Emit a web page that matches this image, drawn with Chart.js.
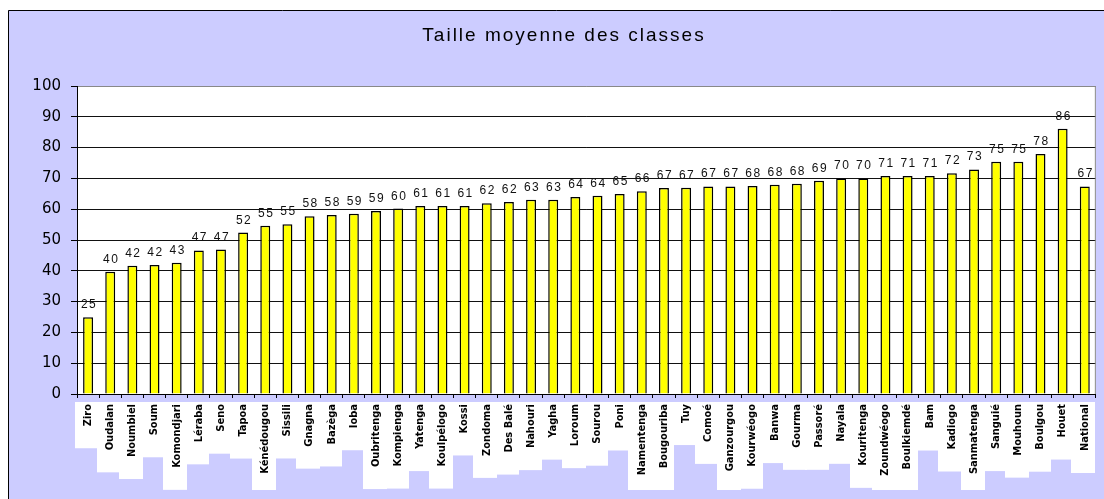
<!DOCTYPE html>
<html>
<head>
<meta charset="utf-8">
<script src="https://cdn.jsdelivr.net/npm/chart.js@4/dist/chart.umd.min.js"></script>
<style>
  html, body { margin: 0; padding: 0; background: #fff; }
  canvas { display: block; }
</style>
</head>
<body>
<canvas id="chart" width="1104" height="499"></canvas>
<script>
const chartTitle = 'Taille moyenne des classes';

const provinces = [
  'Ziro', 'Oudalan', 'Noumbiel', 'Soum', 'Komondjari', 'Léraba', 'Seno', 'Tapoa',
  'Kénédougou', 'Sissili', 'Gnagna', 'Bazèga', 'Ioba', 'Oubritenga', 'Kompienga',
  'Yatenga', 'Koulpélogo', 'Kossi', 'Zondoma', 'Des Balé', 'Nahouri', 'Yagha',
  'Loroum', 'Sourou', 'Poni', 'Namentenga', 'Bougouriba', 'Tuy', 'Comoé',
  'Ganzourgou', 'Kourwéogo', 'Banwa', 'Gourma', 'Passoré', 'Nayala', 'Kouritenga',
  'Zoundwéogo', 'Boulkiemdé', 'Bam', 'Kadiogo', 'Sanmatenga', 'Sanguié', 'Mouhoun',
  'Boulgou', 'Houet', 'National'
];

const classSizes = [
  24.9, 39.7, 41.6, 41.9, 42.6, 46.6, 46.9, 52.4,
  54.6, 55.1, 57.7, 58.1, 58.5, 59.4, 60.2,
  61.0, 61.0, 61.0, 61.9, 62.3, 63.1, 63.1,
  64.0, 64.4, 64.9, 65.8, 66.9, 67.0, 67.4,
  67.4, 67.5, 67.9, 68.3, 69.2, 70.0, 70.0,
  70.8, 70.8, 70.8, 71.7, 72.9, 75.4, 75.4,
  77.9, 86.1, 67.4
];

const LAVENDER = '#ccccff';
const LABEL_FAMILY = "'Liberation Sans Narrow', 'DejaVu Sans Condensed', sans-serif";
const LABEL_FONT = `bold 11px ${LABEL_FAMILY}`;

// excel-like background: lavender frame, white plot, white boxes under the labels
const backdrop = {
  id: 'backdrop',
  beforeDraw(chart) {
    const { ctx, chartArea: a, width: w, height: h } = chart;
    const xs = chart.scales.x;
    const step = xs.width / provinces.length;

    ctx.save();
    ctx.fillStyle = '#fff';
    ctx.fillRect(0, 0, w, h);
    ctx.fillStyle = LAVENDER;
    ctx.fillRect(8, 10, w - 8, h - 10);
    ctx.strokeStyle = '#000';
    ctx.lineWidth = 1;
    ctx.beginPath();
    ctx.moveTo(8.5, h);
    ctx.lineTo(8.5, 10.5);
    ctx.lineTo(w, 10.5);
    ctx.stroke();

    ctx.font = LABEL_FONT;
    ctx.fillStyle = '#fff';
    provinces.forEach((p, i) => {
      const cx = xs.getPixelForValue(i);
      const len = ctx.measureText(p).width;
      ctx.fillRect(Math.round(cx - 13.5), a.bottom + 8, Math.ceil(step) + 1, Math.min(len + 24, 88));
    });

    ctx.fillRect(a.left, a.top, a.right - a.left, a.bottom - a.top);
    ctx.restore();
  },
  afterDatasetsDraw(chart) {
    const { ctx } = chart;
    const meta = chart.getDatasetMeta(0);
    ctx.save();
    ctx.font = "12px 'Liberation Sans', Arial, sans-serif";
    ctx.letterSpacing = '1.5px';
    ctx.fillStyle = '#111';
    ctx.textAlign = 'center';
    ctx.textBaseline = 'alphabetic';
    meta.data.forEach((bar, i) => {
      ctx.fillText(String(Math.round(classSizes[i])), bar.x + 1, bar.y - 9);
    });
    ctx.restore();
  },
  afterDraw(chart) {
    const { ctx, chartArea: a } = chart;
    ctx.save();
    ctx.strokeStyle = '#888';
    ctx.lineWidth = 1;
    ctx.beginPath();
    ctx.moveTo(a.right - 0.5, a.top);
    ctx.lineTo(a.right - 0.5, a.bottom);
    ctx.stroke();

    ctx.font = "19px 'Liberation Sans', Arial, sans-serif";
    ctx.letterSpacing = '2px';
    ctx.fillStyle = '#000';
    ctx.textAlign = 'center';
    ctx.textBaseline = 'middle';
    ctx.fillText(chartTitle, 564, 36);
    ctx.restore();
  }
};

new Chart(document.getElementById('chart'), {
  type: 'bar',
  data: {
    labels: provinces,
    datasets: [{
      data: classSizes,
      backgroundColor: '#ffff00',
      borderColor: '#000',
      borderWidth: 1.5,
      barPercentage: 0.45,
      categoryPercentage: 1
    }]
  },
  options: {
    responsive: false,
    animation: false,
    layout: { padding: { left: 9, top: 86, right: 2, bottom: 0 } },
    plugins: {
      legend: { display: false },
      tooltip: { enabled: false },
      title: { display: false }
    },
    scales: {
      x: {
        grid: { drawOnChartArea: false, tickLength: 4, tickColor: '#000', offset: true },
        border: { color: '#000' },
        ticks: {
          autoSkip: false,
          maxRotation: 90,
          minRotation: 90,
          padding: 6,
          color: '#000',
          font: { family: LABEL_FAMILY, size: 11, weight: 'bold' }
        },
        afterFit: s => { s.height = 105; }
      },
      y: {
        min: 0,
        max: 100,
        ticks: {
          stepSize: 10,
          padding: 10,
          color: '#000',
          font: { family: "'DejaVu Sans', sans-serif", size: 15 }
        },
        grid: {
          color: c => (c.tick && c.tick.value === 100 ? '#888' : '#111'),
          tickLength: 6,
          tickColor: '#000'
        },
        border: { color: '#000' },
        afterFit: s => { s.width = 68; }
      }
    }
  },
  plugins: [backdrop]
});
</script>
</body>
</html>
